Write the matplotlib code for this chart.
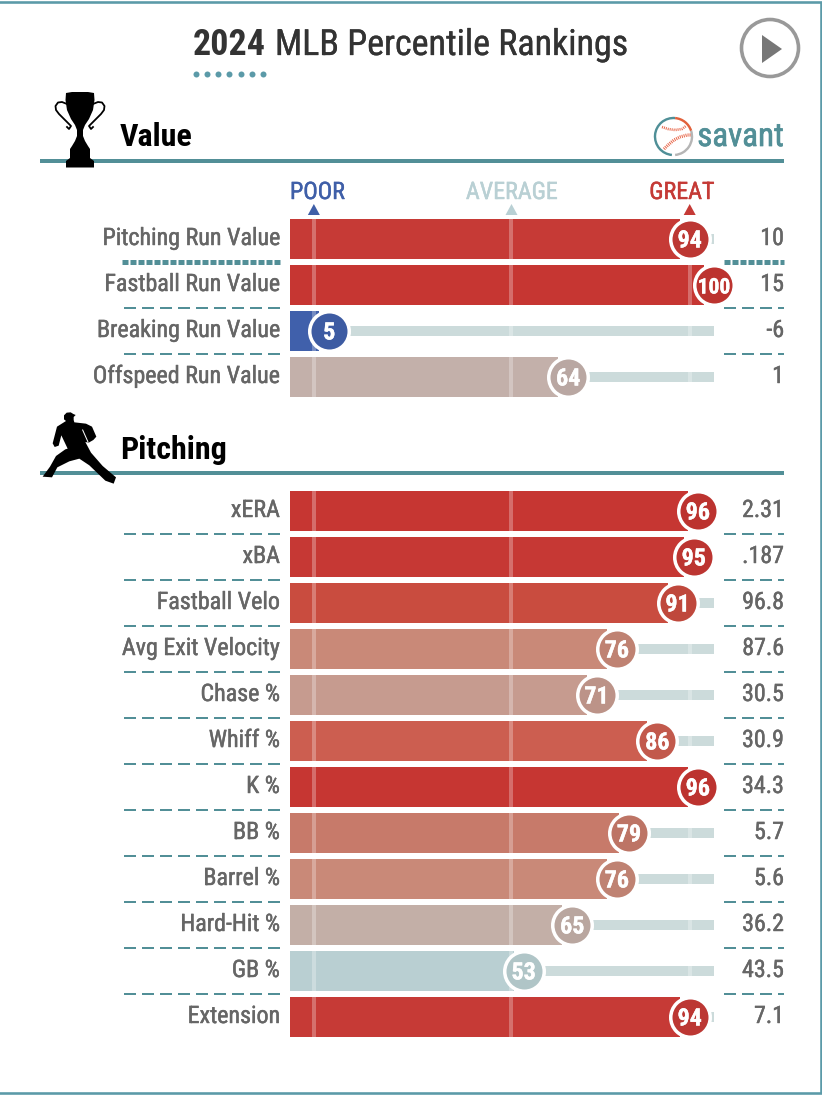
import matplotlib
matplotlib.use('Agg')
import matplotlib.pyplot as plt
import matplotlib.patheffects as pe
from matplotlib.patches import Circle, Polygon, Arc

plt.rcParams['lines.scale_dashes'] = False
FAM = ['Roboto Condensed', 'Roboto', 'DejaVu Sans']
plt.rcParams['font.family'] = FAM

# ---------- data ----------
value_labels = ['Pitching Run Value', 'Fastball Run Value', 'Breaking Run Value', 'Offspeed Run Value']
value_pct = [94, 100, 5, 64]
value_raw = ['10', '15', '-6', '1']
value_colors = ['#c63a36', '#c63632', '#4060ab', '#c3b0aa']

pitch_labels = ['xERA', 'xBA', 'Fastball Velo', 'Avg Exit Velocity', 'Chase %', 'Whiff %', 'K %',
                'BB %', 'Barrel %', 'Hard-Hit %', 'GB %', 'Extension']
pitch_pct = [96, 95, 91, 76, 71, 86, 96, 79, 76, 65, 53, 94]
pitch_raw = ['2.31', '.187', '96.8', '87.6', '30.5', '30.9', '34.3', '5.7', '5.6', '36.2', '43.5', '7.1']
pitch_colors = ['#c63632', '#c63834', '#c94c3f', '#c98978', '#c69b8f', '#cc5e50', '#c63632',
                '#c77a6a', '#c98978', '#c3afa7', '#b9cfd2', '#c63a36']

ref_lines = [1.2, 50, 94]
legend_names = ['POOR', 'AVERAGE', 'GREAT']
legend_colors = ['#3f5fa8', '#b9d0d4', '#c53a36']

# ---------- figure ----------
W, H = 822, 1096
fig = plt.figure(figsize=(W / 72, H / 72), dpi=72, facecolor='white')
deco = fig.add_axes([0, 0, 1, 1], zorder=1)
deco.set_xlim(0, W); deco.set_ylim(H, 0); deco.axis('off')

# percentile scale: 0 -> 309 px, 100 -> 714 px
PX0, PXS = 309, 4.05
bars = fig.add_axes([0, 0, 1, 1], zorder=2)
bars.patch.set_alpha(0)
bars.set_xlim((0 - PX0) / PXS, (W - PX0) / PXS); bars.set_ylim(H, 0); bars.axis('off')
BAR_LEFT = (290 - PX0) / PXS
BAR_CUT = 10 / PXS

TEAL = '#528f97'
FRAME = '#5b9aa8'
GREY = '#666666'

def darker(c, f=0.95):
    r, g, b = matplotlib.colors.to_rgb(c)
    return (r * f, g * f, b * f)

def heavy(col, w=0.45):
    return [pe.withStroke(linewidth=w, foreground=col)]

# frame
deco.plot([0, 821, 821, 0], [2, 2, 1093, 1093], color=FRAME, lw=2.6, solid_joinstyle='miter')

# title
deco.text(193, 55, '2024', fontsize=36, fontweight='bold', color='#333333', va='baseline')
deco.text(275, 55, 'MLB Percentile Rankings', fontsize=36, color='#333333', va='baseline',
          path_effects=heavy('#333333', 0.3))
deco.scatter([196, 207, 218, 229.3, 240.5, 251.7, 263], [74] * 7, s=36, color=FRAME, lw=0)

# play button
deco.add_patch(Circle((770, 48), 28.5, fc='white', ec='#999999', lw=3.6))
deco.add_patch(Polygon([(762, 35), (782, 49), (762, 63)], fc='#777777', ec='none'))

# section rules
for y in (161, 473):
    deco.plot([40, 784], [y, y], color=TEAL, lw=4, solid_capstyle='butt', zorder=1)
deco.text(120, 146, 'Value', fontsize=32, fontweight='bold', color='black', va='baseline')
deco.text(120, 459, 'Pitching', fontsize=32, fontweight='bold', color='black', va='baseline')

# savant logo
deco.text(784, 146, 'savant', fontsize=33, color=TEAL, ha='right', va='baseline',
          path_effects=heavy(TEAL, 0.7))
lc, lr = (673.5, 136.5), 37
for t1, t2, col in [(85, 265, '#4f8f97'), (18, 85, '#e2603a'), (-85, 18, '#b5b5b5')]:
    deco.add_patch(Arc(lc, lr, lr, angle=0, theta1=-t2, theta2=-t1, color=col, lw=2.4))
deco.plot([662, 668, 675, 682, 686], [127, 129, 130, 129, 126], color='#e8674a', lw=2.6, dashes=(1, 1))
deco.plot([664, 668, 674, 680, 687, 691], [149, 145, 140, 137, 135, 135], color='#e8674a', lw=3.2, dashes=(1, 1))

# trophy
trophy = [(66, 93), (72, 92), (88, 92), (94, 93), (94.5, 100), (93, 110), (89, 119), (85, 125), (83, 130), (83, 136),
          (85, 141), (88, 146), (90, 149), (90, 158), (94, 161), (94, 167.5), (66, 167.5), (66, 161), (70, 158),
          (70, 149), (72, 146), (75, 141), (77, 136), (77, 130), (75, 125), (71, 119), (67, 110), (65.5, 100)]
deco.add_patch(Polygon(trophy, fc='black', ec='none', zorder=3))
hx = [67, 62, 58, 55.5, 56, 59, 64, 68, 71, 69, 67]
hy = [104, 102, 102.5, 106, 110, 114, 119, 123, 126, 129, 127]
deco.plot(hx, hy, color='black', lw=1.8, zorder=3)
deco.plot([160 - x for x in hx], hy, color='black', lw=1.8, zorder=3)

# pitcher
pitcher_z = [(90, 45), (84, 40), (84, 28), (92, 20), (104, 19), (112, 24), (119, 27), (113, 33), (113, 42), (115, 49),
             (150, 53), (168, 62), (181, 92), (172, 102), (158, 110), (148, 108), (165, 140), (200, 180), (240, 214),
             (233, 233), (208, 224), (160, 178), (130, 158), (100, 166), (64, 184), (48, 214), (20, 212), (42, 182),
             (60, 150), (88, 130), (95, 128), (76, 88), (68, 119), (56, 123), (50, 112), (63, 62)]
pitcher = [(36 + x / 3, 406 + y / 3) for x, y in pitcher_z]
deco.add_patch(Polygon(pitcher, fc='black', ec='none', zorder=3))
deco.plot([36 + 140 / 3, 36 + 156 / 3], [406 + 72 / 3, 406 + 108 / 3], color='white', lw=1, zorder=4)

# legend header
for name, col, ref, tx in zip(legend_names, legend_colors, ref_lines, (290, 512, 682)):
    rx = PX0 + PXS * ref
    deco.text(tx, 199, name, fontsize=24, color=col, va='baseline',
              ha='left' if name == 'POOR' else 'center', path_effects=heavy(col))
    deco.add_patch(Polygon([(rx, 204), (rx + 6, 215), (rx - 6, 215)], fc=col, ec='none'))

def row(y, label, pct, raw, color, sep):
    bars.barh(y, 100 - pct, left=pct, height=10, color='#ccdbdb', lw=0, zorder=1)
    bars.barh(y, pct - BAR_CUT - BAR_LEFT, left=BAR_LEFT, height=40, color=color, lw=0, zorder=2)
    for r in ref_lines:
        half = 20 if r < pct - BAR_CUT / 2 else 5
        bars.plot([r, r], [y - half, y + half], color='white', alpha=0.28, lw=4,
                  solid_capstyle='butt', zorder=3)
    bars.scatter([pct], [y], s=39.5 ** 2, color=darker(color), edgecolors='white', linewidths=3.5,
                 zorder=4, clip_on=False)
    bars.text(pct, y + 8.5, str(pct), color='white', fontweight='bold', fontsize=24 if pct < 100 else 21.5,
              ha='center', va='baseline', zorder=5, path_effects=heavy('white', 0.4))
    deco.text(280, y + 6, label, fontsize=24, color=GREY, ha='right', va='baseline', path_effects=heavy(GREY))
    deco.text(784, y + 6, raw, fontsize=24, color=GREY, ha='right', va='baseline', path_effects=heavy(GREY))
    if sep == 'dot':
        for xa, xb in ((122, 280), (724, 784)):
            deco.plot([xa, xb], [y + 23, y + 23], color=TEAL, lw=5, dashes=(6, 2), dash_capstyle='butt')
    elif sep == 'dash':
        for xa, xb in ((124, 280), (724, 784)):
            deco.plot([xa, xb], [y + 23, y + 23], color=TEAL, lw=2, dashes=(12, 6), dash_capstyle='butt')

for i, (l, p, r, c) in enumerate(zip(value_labels, value_pct, value_raw, value_colors)):
    row(239 + 46 * i, l, p, r, c, 'dot' if i == 0 else ('dash' if i < len(value_pct) - 1 else None))
for i, (l, p, r, c) in enumerate(zip(pitch_labels, pitch_pct, pitch_raw, pitch_colors)):
    row(511 + 46 * i, l, p, r, c, 'dash' if i < len(pitch_pct) - 1 else None)

fig.savefig('out.png', dpi=72, facecolor='white')
